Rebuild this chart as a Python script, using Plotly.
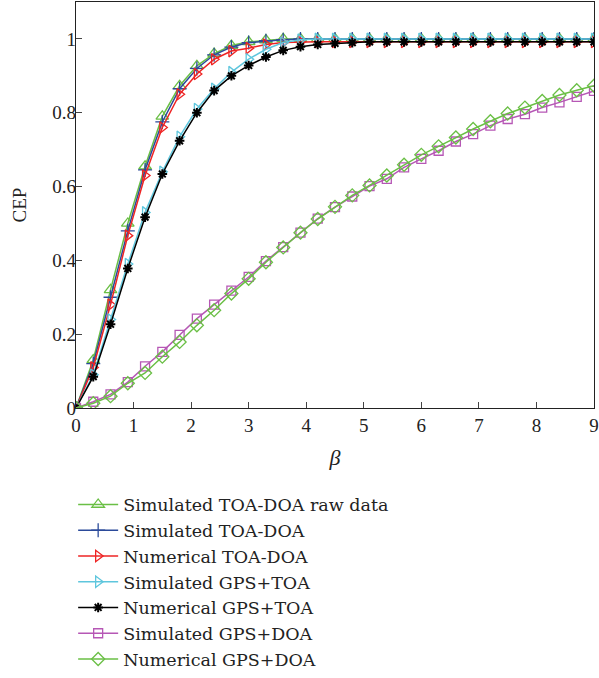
import plotly.graph_objects as go

beta = [round(0.3 * i, 1) for i in range(31)]

sim_toa_doa_raw = [0, 0.13, 0.32, 0.50, 0.655, 0.79, 0.873, 0.927, 0.96, 0.982, 0.992, 0.997, 1.0,
                   1.0, 1.0, 1.0, 1.0, 1.0, 1.0, 1.0, 1.0, 1.0, 1.0, 1.0, 1.0, 1.0, 1.0, 1.0, 1.0, 1.0, 1.0]
sim_toa_doa = [0, 0.12, 0.30, 0.48, 0.645, 0.775, 0.865, 0.92, 0.957, 0.978, 0.99, 0.995, 0.998,
               1.0, 1.0, 1.0, 1.0, 1.0, 1.0, 1.0, 1.0, 1.0, 1.0, 1.0, 1.0, 1.0, 1.0, 1.0, 1.0, 1.0, 1.0]
num_toa_doa = [0, 0.11, 0.28, 0.467, 0.63, 0.76, 0.85, 0.905, 0.945, 0.967, 0.975, 0.985, 0.99,
               0.992, 0.992, 0.992, 0.992, 0.992, 0.992, 0.992, 0.992, 0.992, 0.992, 0.992, 0.992,
               0.992, 0.992, 0.992, 0.992, 0.992, 0.992]
sim_gps_toa = [0, 0.09, 0.24, 0.39, 0.53, 0.64, 0.735, 0.81, 0.865, 0.91, 0.945, 0.972, 0.99, 0.998,
               1.0, 1.0, 1.0, 1.0, 1.0, 1.0, 1.0, 1.0, 1.0, 1.0, 1.0, 1.0, 1.0, 1.0, 1.0, 1.0, 1.0]
num_gps_toa = [0, 0.085, 0.227, 0.378, 0.517, 0.634, 0.724, 0.8, 0.86, 0.9, 0.928, 0.951, 0.969,
               0.979, 0.985, 0.988, 0.99, 0.992, 0.992, 0.992, 0.992, 0.992, 0.992, 0.992, 0.992,
               0.992, 0.992, 0.992, 0.992, 0.992, 0.992]
sim_gps_doa = [0, 0.017, 0.037, 0.07, 0.113, 0.152, 0.198, 0.242, 0.28, 0.318, 0.355, 0.398, 0.436,
               0.475, 0.513, 0.544, 0.573, 0.601, 0.621, 0.652, 0.675, 0.697, 0.722, 0.742, 0.765,
               0.783, 0.796, 0.814, 0.828, 0.843, 0.859]
num_gps_doa = [0, 0.013, 0.032, 0.067, 0.095, 0.139, 0.179, 0.224, 0.265, 0.31, 0.35, 0.395, 0.435,
               0.475, 0.512, 0.545, 0.576, 0.603, 0.63, 0.659, 0.686, 0.709, 0.733, 0.756, 0.777,
               0.798, 0.814, 0.832, 0.848, 0.861, 0.873]

x_ticks = [0, 1, 2, 3, 4, 5, 6, 7, 8, 9]
y_ticks = [0, 0.2, 0.4, 0.6, 0.8, 1]
y_tick_labels = ["0", "0.2", "0.4", "0.6", "0.8", "1"]

series = [
    ("Simulated TOA-DOA raw data", sim_toa_doa_raw, "#6abf45", "triangle-up-open", 11),
    ("Simulated TOA-DOA", sim_toa_doa, "#2b4a9a", "cross-thin-open", 10),
    ("Numerical TOA-DOA", num_toa_doa, "#ee2424", "triangle-right-open", 10),
    ("Simulated GPS+TOA", sim_gps_toa, "#5ec6dd", "triangle-right-open", 10),
    ("Numerical GPS+TOA", num_gps_toa, "#000000", "asterisk-open", 8),
    ("Simulated GPS+DOA", sim_gps_doa, "#b657b5", "square-open", 9),
    ("Numerical GPS+DOA", num_gps_doa, "#6abf45", "diamond-open", 10),
]

fig = go.Figure()
for name, ys, color, sym, size in series:
    fig.add_trace(go.Scatter(
        x=beta, y=ys, name=name, mode="lines+markers",
        line=dict(color=color, width=1.5),
        marker=dict(symbol=sym, size=size, color=color,
                    line=dict(color=color, width=1.3 if "asterisk" not in sym else 2)),
    ))

serif = "Liberation Serif"
legend_font = "DejaVu Serif"
fig.update_layout(
    width=599, height=678,
    margin=dict(l=76, r=5, t=2, b=270, autoexpand=False),
    paper_bgcolor="white", plot_bgcolor="white",
    font=dict(family=serif, size=19, color="#222"),
    showlegend=True,
    legend=dict(x=-0.0055, y=-0.1936, xanchor="left", yanchor="top",
                font=dict(family=legend_font, size=17.5, color="#222"),
                itemwidth=40,
                bgcolor="rgba(0,0,0,0)", tracegroupgap=0),
    xaxis=dict(range=[0, 9], tickvals=x_ticks, ticks="inside", ticklen=6,
               showline=True, linecolor="#222", linewidth=1.3, mirror=True,
               showgrid=False, zeroline=False,
               title=dict(text="<i>β</i>", font=dict(size=22), standoff=14),
               tickfont=dict(size=19)),
    yaxis=dict(range=[0, 1.1], tickvals=y_ticks, ticktext=y_tick_labels,
               ticks="inside", ticklen=6, ticklabelstandoff=-5,
               showline=True, linecolor="#222", linewidth=1.3, mirror=True,
               showgrid=False, zeroline=False,
               title=dict(text="CEP", font=dict(size=19), standoff=20),
               tickfont=dict(size=19)),
)

fig.write_html("out.html")
